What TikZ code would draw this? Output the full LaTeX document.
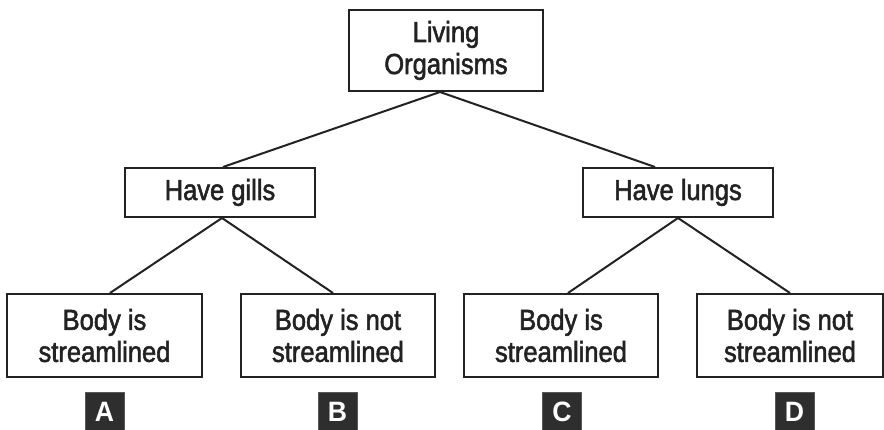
\documentclass[tikz,border=0pt]{standalone}
\usepackage{fontspec}
\setmainfont{Liberation Sans}[FakeStretch=0.88, FakeBold=1.8]
\newfontfamily\tagfont{Liberation Sans}[FakeStretch=0.95]
\definecolor{inkgray}{HTML}{222222}
\definecolor{tagfill}{HTML}{2E2E2E}

\newcommand{\tagbox}[3]{
	\node[tag] (#1) at (#2, 412) {#3};
}

\begin{document}
\begin{tikzpicture}[x=1pt, y=-1pt,
	box/.style={draw=inkgray, line width=2pt, fill=white, inner sep=0pt,
		align=center, font=\fontsize{29}{32}\selectfont, text=inkgray},
	tag/.style={fill=tagfill, draw=gray!70!black, line width=0.8pt,
		minimum width=39pt, minimum height=39pt, inner sep=0pt,
		font=\tagfont\fontsize{28}{28}\selectfont\bfseries, text=white},
	link/.style={draw=inkgray, line width=2pt}]
\useasboundingbox (0,0) rectangle (884,430);

\pgfmathsetmacro{\rowTop}{50.5}
\pgfmathsetmacro{\rowMid}{192.5}
\pgfmathsetmacro{\rowLow}{335.5}

\node[box, minimum width=194pt, minimum height=81pt] (living) at (446, \rowTop) {Living\\Organisms};

\node[box, minimum width=190pt, minimum height=49pt] (gills) at (220, \rowMid) {Have gills};
\node[box, minimum width=190pt, minimum height=49pt] (lungs) at (678, \rowMid) {Have lungs};

\node[box, minimum width=195pt, minimum height=83pt] (gillsA) at (104.5, \rowLow) {Body is\\streamlined};
\node[box, minimum width=194pt, minimum height=83pt] (gillsB) at (338, \rowLow) {Body is not\\streamlined};
\node[box, minimum width=194pt, minimum height=83pt] (lungsC) at (561, \rowLow) {Body is\\streamlined};
\node[box, minimum width=186pt, minimum height=83pt] (lungsD) at (790, \rowLow) {Body is not\\streamlined};

\draw[link] ([xshift=-6pt]living.south) -- ([xshift=3pt]gills.north);
\draw[link] ([xshift=-6pt]living.south) -- ([xshift=-23pt]lungs.north);
\draw[link] ([xshift=2pt]gills.south) -- ([xshift=5.5pt]gillsA.north);
\draw[link] ([xshift=2pt]gills.south) -- ([xshift=-5pt]gillsB.north);
\draw[link] (lungs.south) -- ([xshift=7pt]lungsC.north);
\draw[link] (lungs.south) -- (lungsD.north);

\tagbox{tagA}{104.5}{A}
\tagbox{tagB}{337.5}{B}
\tagbox{tagC}{562}{C}
\tagbox{tagD}{794.5}{D}
\end{tikzpicture}
\end{document}
